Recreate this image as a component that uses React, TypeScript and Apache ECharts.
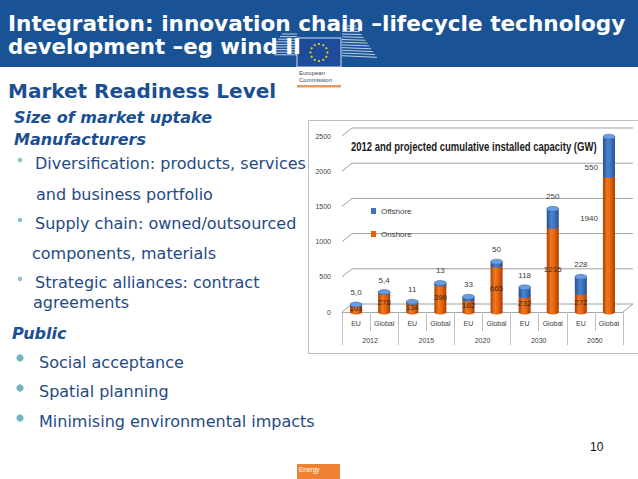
import React, { useEffect, useRef } from "react";
import * as echarts from "echarts";

const categories = ["EU", "Global", "EU", "Global", "EU", "Global", "EU", "Global", "EU", "Global"];
const years = ["2012", "2015", "2020", "2030", "2050"];
const onshore = [101, 278, 134, 399, 182, 665, 232, 1215, 272, 1940];
const offshore = [5.0, 5.4, 11, 13, 33, 50, 118, 250, 228, 550];
const yTicks = [0, 500, 1000, 1500, 2000, 2500];

const chartTitle = "2012 and projected cumulative installed capacity (GW)";
const slideTitle1 = "Integration: innovation chain \u2013lifecycle technology";
const slideTitle2 = "development \u2013eg wind II";

const TXT = "#1f4a84";
const HEAD = "#1b4f91";
const VERD = "'DejaVu Sans', Verdana, sans-serif";
const LIB = "'Liberation Sans', Arial, sans-serif";

const DX = 10;
const DY = 8;
const BAR_W = 12;

function fmt(v: number) {
  return v < 10 ? v.toFixed(1).replace(".", ",") : String(v);
}

export default function App() {
  const ref = useRef<HTMLDivElement>(null);
  useEffect(() => {
    document.body.style.margin = "0";
    if (!ref.current) return;
    const chart = echarts.init(ref.current, undefined, { renderer: "svg" });

    let scaleX = 0.74;
    try {
      const c = document.createElement("canvas").getContext("2d");
      if (c) {
        c.font = "bold 13px 'Liberation Sans'";
        const w = c.measureText(chartTitle).width;
        if (w > 0) scaleX = 246 / w;
      }
    } catch (e) {}

    const last = categories.length - 1;

    const text = (t: string, x: number, y: number, o: any = {}) => ({
      type: "text",
      x,
      y,
      z: o.z ?? 10,
      scaleX: o.scaleX ?? 1,
      style: {
        text: t,
        fill: o.fill ?? TXT,
        fontSize: o.size ?? 16,
        fontWeight: o.weight ?? "normal",
        fontStyle: o.style ?? "normal",
        fontFamily: o.family ?? VERD,
        verticalAlign: "middle",
        align: o.align ?? "left",
      },
    });

    const elements: any[] = [];
    // header band
    elements.push({ type: "rect", shape: { x: 0, y: 0, width: 638, height: 67 }, style: { fill: "#1a5296" }, z: 1 });
    elements.push(text(slideTitle1, 8, 23, { fill: "#ffffff", size: 21.6, weight: "bold" }));
    elements.push(text(slideTitle2, 8, 46, { fill: "#ffffff", size: 21.3, weight: "bold" }));

    // EU logo stripes
    for (let i = 0; i < 9; i++) {
      const y = 34 + i * 2.6;
      elements.push({ type: "line", z: 5, shape: { x1: 274 + Math.max(0, 4 - i) * 2, y1: y, x2: 297, y2: y }, style: { stroke: "#e8eef8", lineWidth: 0.8 } });
    }
    for (let i = 0; i < 12; i++) {
      const y = 26 + i * 2.7;
      const len = 14 + i * 1.9;
      elements.push({ type: "line", z: 5, shape: { x1: 342, y1: y, x2: 342 + len, y2: y + i * 0.15 }, style: { stroke: "#e8eef8", lineWidth: 0.8 } });
    }
    elements.push({ type: "rect", z: 6, shape: { x: 297, y: 38, width: 44, height: 29 }, style: { fill: "#1d4c9b", stroke: "#ffffff", lineWidth: 0.8 } });
    for (let i = 0; i < 12; i++) {
      const a = (i / 12) * Math.PI * 2;
      elements.push({ type: "circle", z: 7, shape: { cx: 319 + Math.cos(a) * 8.5, cy: 52.5 + Math.sin(a) * 8.5, r: 1.1 }, style: { fill: "#f4d21a" } });
    }
    elements.push(text("European", 299, 73, { size: 6, fill: "#444444", family: LIB }));
    elements.push(text("Commission", 299, 80, { size: 6, fill: "#444444", family: LIB }));
    elements.push({ type: "rect", z: 6, shape: { x: 297, y: 85, width: 44, height: 2.5 }, style: { fill: "#e59a60" } });

    elements.push(text("Market Readiness Level", 8, 91, { fill: HEAD, size: 20, weight: "bold" }));

    // left text
    elements.push(text("Size of market uptake", 14, 117, { fill: HEAD, weight: "bold", style: "italic" }));
    elements.push(text("Manufacturers", 14, 139, { fill: HEAD, weight: "bold", style: "italic" }));
    const smallBul = (y: number) => ({ type: "circle", z: 10, shape: { cx: 20, cy: y, r: 2.2 }, style: { fill: "#86c2ca" } });
    elements.push(smallBul(160));
    elements.push(text("Diversification: products, services", 35, 163));
    elements.push(text("and business portfolio", 36, 194));
    elements.push(smallBul(220));
    elements.push(text("Supply chain: owned/outsourced", 35, 223));
    elements.push(text("components, materials", 32, 253));
    elements.push(smallBul(279));
    elements.push(text("Strategic alliances: contract", 35, 282));
    elements.push(text("agreements", 33, 302));
    elements.push(text("Public", 12, 333, { fill: HEAD, weight: "bold", style: "italic" }));
    const bigBul = (y: number) => ({ type: "circle", z: 10, shape: { cx: 20, cy: y, r: 3.6 }, style: { fill: "#72b5bf" } });
    elements.push(bigBul(358));
    elements.push(text("Social acceptance", 39, 362));
    elements.push(bigBul(388));
    elements.push(text("Spatial planning", 39, 391));
    elements.push(bigBul(418));
    elements.push(text("Minimising environmental impacts", 39, 421));

    elements.push(text("10", 590, 447, { fill: "#111111", size: 12, family: LIB }));
    elements.push({ type: "rect", z: 6, shape: { x: 297, y: 464, width: 43, height: 15 }, style: { fill: "#ef8232" } });
    elements.push(text("Energy", 299, 469, { fill: "#ffffff", size: 6.5, family: LIB }));

    // chart frame
    elements.push({ type: "rect", z: 0, shape: { x: 308.5, y: 120.5, width: 340, height: 233 }, style: { fill: "none", stroke: "#bfbfbf", lineWidth: 1 } });
    elements.push(text(chartTitle, 351, 146, { fill: "#1a1a1a", size: 13, weight: "bold", family: LIB, scaleX }));

    const onGrad = new echarts.graphic.LinearGradient(0, 0, 1, 0, [
      { offset: 0, color: "#a84005" },
      { offset: 0.35, color: "#f2781c" },
      { offset: 0.65, color: "#e5620c" },
      { offset: 1, color: "#a23c04" },
    ]);
    const offGrad = new echarts.graphic.LinearGradient(0, 0, 1, 0, [
      { offset: 0, color: "#27508f" },
      { offset: 0.4, color: "#4a82cf" },
      { offset: 0.65, color: "#3f74c0" },
      { offset: 1, color: "#264d8a" },
    ]);

    const totals = onshore.map((v, i) => v + offshore[i]);

    const option: any = {
      animation: false,
      graphic: { elements },
      grid: { left: 342, right: 15, top: 136, bottom: 167, containLabel: false },
      legend: {
        data: [
          { name: "Offshore", itemStyle: { color: "#3f74c0" } },
          { name: "Onshore", itemStyle: { color: "#e5620c" } },
        ],
        orient: "vertical",
        left: 371,
        top: 207,
        itemGap: 15,
        itemWidth: 5,
        itemHeight: 6,
        icon: "rect",
        padding: 0,
        textStyle: { fontSize: 8, color: "#404040", fontFamily: LIB },
      },
      xAxis: [
        {
          type: "category",
          data: categories,
          position: "bottom",
          axisLine: { show: true, lineStyle: { color: "#a6a6a6", width: 1 } },
          axisTick: { show: true, length: 19, lineStyle: { color: "#bfbfbf" } },
          axisLabel: { fontSize: 7, color: "#404040", margin: 8, fontFamily: LIB, interval: 0 },
          splitLine: { show: false },
        },
        {
          type: "category",
          data: years,
          position: "bottom",
          axisLine: { show: false },
          axisTick: { show: true, length: 33, lineStyle: { color: "#bfbfbf" } },
          axisLabel: { fontSize: 7, color: "#404040", margin: 25, fontFamily: LIB, interval: 0 },
          splitLine: { show: false },
        },
      ],
      yAxis: {
        type: "value",
        min: 0,
        max: 2500,
        interval: 500,
        axisLine: { show: false },
        axisTick: { show: false },
        splitLine: { show: false },
        axisLabel: { fontSize: 7, color: "#404040", margin: 11, fontFamily: LIB, formatter: (v: number) => String(v) },
      },
      series: [
        {
          type: "custom",
          name: "walls",
          z: 0,
          silent: true,
          clip: false,
          data: yTicks.map((v) => [0, v]),
          renderItem: (params: any, api: any) => {
            const v = api.value(1);
            const l = api.coord([0, v]);
            const r = api.coord([last, v]);
            const half = api.size([1, 0])[0] / 2;
            const xl = l[0] - half;
            const xr = r[0] + half;
            const y = l[1];
            const children: any[] = [
              {
                type: "polyline",
                shape: { points: [[xl, y], [xl + DX, y - DY], [xr + DX, y - DY]] },
                style: { stroke: "#a0a0a0", lineWidth: 1, fill: "none" },
              },
            ];
            if (v === 0) {
              children.push({ type: "line", shape: { x1: xr, y1: y, x2: xr + DX, y2: y - DY }, style: { stroke: "#a0a0a0", lineWidth: 1 } });
            }
            return { type: "group", children };
          },
        },
        {
          type: "custom",
          name: "bases",
          z: 1,
          silent: true,
          clip: false,
          data: onshore.map((v, i) => [i, 0]),
          renderItem: (params: any, api: any) => {
            const p = api.coord([api.value(0), 0]);
            return { type: "ellipse", shape: { cx: p[0], cy: p[1], rx: BAR_W / 2, ry: 2.5 }, style: { fill: onGrad } };
          },
        },
        {
          type: "bar",
          name: "Onshore",
          stack: "cap",
          barWidth: BAR_W,
          z: 2,
          itemStyle: { color: onGrad },
          label: {
            show: true,
            position: "inside",
            fontSize: 8,
            color: "#3a2a20",
            fontFamily: LIB,
          },
          data: onshore.map((v, i) =>
            i === last
              ? { value: v, label: { position: "left", distance: 5, offset: [0, -25], color: "#404040" } }
              : v
          ),
        },
        {
          type: "bar",
          name: "Offshore",
          stack: "cap",
          barWidth: BAR_W,
          z: 2,
          itemStyle: { color: offGrad },
          label: {
            show: true,
            position: "top",
            distance: 8,
            fontSize: 8,
            color: "#404040",
            fontFamily: LIB,
            formatter: (p: any) => fmt(p.value),
          },
          data: offshore.map((v, i) =>
            i === last ? { value: v, label: { position: "left", distance: 5, offset: [0, 11] } } : v
          ),
        },
        {
          type: "custom",
          name: "caps",
          z: 3,
          silent: true,
          clip: false,
          data: onshore.map((v, i) => [i, v, totals[i]]),
          renderItem: (params: any, api: any) => {
            const i = api.value(0);
            const m = api.coord([i, api.value(1)]);
            const t = api.coord([i, api.value(2)]);
            return {
              type: "group",
              children: [
                { type: "ellipse", shape: { cx: m[0], cy: m[1], rx: BAR_W / 2, ry: 2.5 }, style: { fill: offGrad } },
                { type: "ellipse", shape: { cx: t[0], cy: t[1], rx: BAR_W / 2, ry: 2.5 }, style: { fill: "#6a9ce0", stroke: "#3563a6", lineWidth: 0.5 } },
              ],
            };
          },
        },
      ],
    };
    chart.setOption(option);
    return () => chart.dispose();
  }, []);
  return <div ref={ref} style={{ width: 638, height: 479 }} />;
}
